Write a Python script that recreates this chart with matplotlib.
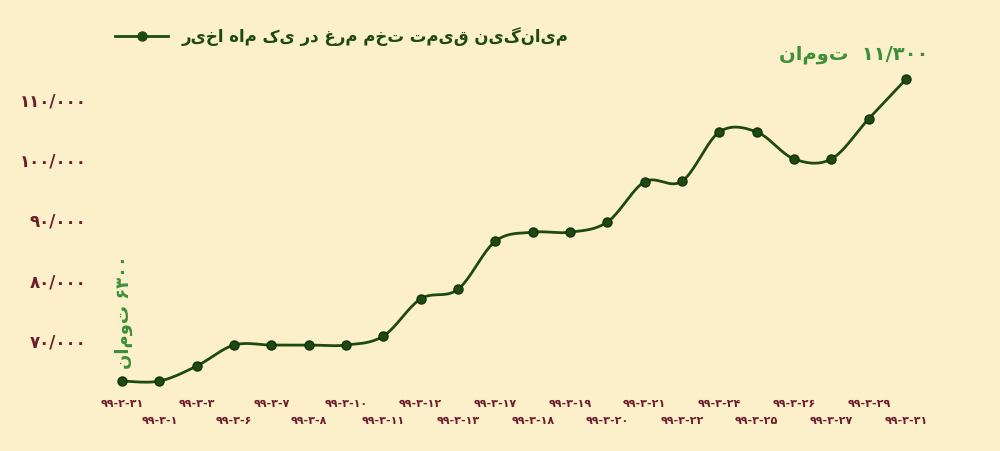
import numpy as np
import matplotlib.pyplot as plt
from matplotlib.lines import Line2D

plt.rcParams['font.family'] = ['DejaVu Sans', 'Noto Sans']

def fa(s):
    # no arabic shaping in matplotlib; reverse so reading order is kept
    return s[::-1]

dates = ['۹۹-۲-۳۱', '۹۹-۳-۱', '۹۹-۳-۳', '۹۹-۳-۶', '۹۹-۳-۷', '۹۹-۳-۸', '۹۹-۳-۱۰', '۹۹-۳-۱۱',
         '۹۹-۳-۱۲', '۹۹-۳-۱۳', '۹۹-۳-۱۷', '۹۹-۳-۱۸', '۹۹-۳-۱۹', '۹۹-۳-۲۰', '۹۹-۳-۲۱', '۹۹-۳-۲۲',
         '۹۹-۳-۲۴', '۹۹-۳-۲۵', '۹۹-۳-۲۶', '۹۹-۳-۲۷', '۹۹-۳-۲۹', '۹۹-۳-۳۱']
prices = [63000, 63000, 65500, 69000, 69000, 69000, 69000, 70500, 76700, 78300, 86300,
          87800, 87800, 89500, 96200, 96300, 104500, 104500, 100000, 100000, 106700, 113300]
yticks = [70000, 80000, 90000, 100000, 110000]
ylabels = ['۷۰/۰۰۰', '۸۰/۰۰۰', '۹۰/۰۰۰', '۱۰۰/۰۰۰', '۱۱۰/۰۰۰']

bg = '#fbf0c9'
green = '#1e4a10'
maroon = '#6e1c2c'
lgreen = '#3d8f3a'

fig = plt.figure(figsize=(10, 4.52), dpi=100, facecolor=bg)
ax = fig.add_axes([0.1, 0.137, 0.83, 0.819], facecolor=bg)

x = np.arange(len(prices))
y = np.array(prices, dtype=float)

# catmull-rom curve through the points
xs, ys = [], []
P = np.column_stack([x, y])
P = np.vstack([P[0], P, P[-1]])
for i in range(1, len(P) - 2):
    p0, p1, p2, p3 = P[i - 1], P[i], P[i + 1], P[i + 2]
    for t in np.linspace(0, 1, 20, endpoint=False):
        pt = 0.5 * ((2 * p1) + (-p0 + p2) * t + (2 * p0 - 5 * p1 + 4 * p2 - p3) * t**2
                    + (-p0 + 3 * p1 - 3 * p2 + p3) * t**3)
        xs.append(pt[0]); ys.append(pt[1])
xs.append(x[-1]); ys.append(y[-1])

ax.plot(xs, ys, color=green, lw=2)
ax.plot(x, y, 'o', color=green, ms=6.5, mec='#10300a')

ax.set_xlim(-0.59, 21.64)
ax.set_ylim(61667, 123333)
ax.set_yticks(yticks)
ax.set_yticklabels(ylabels, color=maroon, fontsize=12, fontweight='bold')
ax.set_xticks([])
for i, d in enumerate(dates):
    off = -0.025 if i % 2 == 0 else -0.07
    ax.text(i, off, d, transform=ax.get_xaxis_transform(), ha='center', va='top',
            fontsize=8, color=maroon, fontweight='bold')
ax.tick_params(axis='y', length=0, pad=10)
for s in ['top', 'right', 'left', 'bottom']:
    ax.spines[s].set_visible(False)

h = Line2D([], [], color=green, lw=2, marker='o', ms=6.5)
ax.legend([h], [fa('میانگین قیمت تخم مرغ در یک ماه اخیر')], loc='upper left',
          bbox_to_anchor=(0.0, 1.02), frameon=False, handlelength=3.2,
          prop={'size': 12, 'weight': 'bold'}, labelcolor=green)

ax.text(21.6, 113300 + 2700, fa('تومان') + '  ۱۱/۳۰۰', ha='right', va='bottom',
        fontsize=14, color=lgreen, fontweight='bold')
ax.text(0.05, 74700, fa('تومان') + ' ۶۳۰۰', rotation=90, ha='center', va='center',
        fontsize=13, color=lgreen, fontweight='bold')

fig.savefig('out.png', facecolor=bg)
